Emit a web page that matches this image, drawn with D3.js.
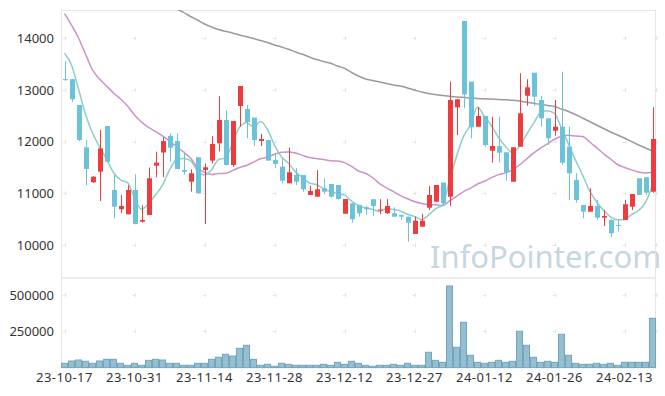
<!DOCTYPE html>
<html>
<head>
<meta charset="utf-8">
<script src="https://cdn.jsdelivr.net/npm/d3@7"></script>
<style>
	body{margin:0;background:#fff;}
	text{font-family:"Noto Sans",sans-serif;}
</style>
</head>
<body>
<script>
	var w=665;
	var h=396;

	var dates=["2023-10-17","2023-10-18","2023-10-19","2023-10-20","2023-10-23","2023-10-24","2023-10-25","2023-10-26","2023-10-27","2023-10-30",
		"2023-10-31","2023-11-01","2023-11-02","2023-11-03","2023-11-06","2023-11-07","2023-11-08","2023-11-09","2023-11-10","2023-11-13",
		"2023-11-14","2023-11-15","2023-11-16","2023-11-17","2023-11-20","2023-11-21","2023-11-22","2023-11-23","2023-11-24","2023-11-27",
		"2023-11-28","2023-11-29","2023-11-30","2023-12-01","2023-12-04","2023-12-05","2023-12-06","2023-12-07","2023-12-08","2023-12-11",
		"2023-12-12","2023-12-13","2023-12-14","2023-12-15","2023-12-18","2023-12-19","2023-12-20","2023-12-21","2023-12-22","2023-12-26",
		"2023-12-27","2023-12-28","2024-01-02","2024-01-03","2024-01-04","2024-01-05","2024-01-08","2024-01-09","2024-01-10","2024-01-11",
		"2024-01-12","2024-01-15","2024-01-16","2024-01-17","2024-01-18","2024-01-19","2024-01-22","2024-01-23","2024-01-24","2024-01-25",
		"2024-01-26","2024-01-29","2024-01-30","2024-01-31","2024-02-01","2024-02-02","2024-02-05","2024-02-06","2024-02-07","2024-02-08",
		"2024-02-13","2024-02-14","2024-02-15","2024-02-16","2024-02-19"];

	var open=[13210,13210,12709,11890,11214,11419,12303,11065,10691,10594,
		11065,10451,10581,11535,11790,12110,12013,11452,11225,11697,
		11452,11632,11968,12419,11548,12690,12632,12464,12013,12032,
		11645,11515,11194,11355,11355,10968,10935,11098,11181,11161,
		10606,10807,10774,10730,10885,10670,10614,10614,10581,10548,
		10213,10354,10722,10838,11206,10935,12665,14335,13160,12289,
		12497,11825,11916,11794,11225,11902,12889,13334,12806,12452,
		12212,12289,11902,11258,10774,10645,10755,10529,10484,10387,
		10484,10741,11291,11310,11032];
	var high=[13560,13210,12709,12030,11330,12226,12303,11355,10968,11152,
		11368,10769,11500,11806,12085,12162,12162,11806,11465,11697,
		11580,12110,12880,12600,12400,13077,12709,12470,12148,12032,
		11755,11703,11883,11490,11355,11148,11452,11291,11181,11161,
		10890,10807,10780,10761,10885,10885,10885,10730,10590,10548,
		10548,10600,11142,11161,11206,13160,12830,14335,13160,12665,
		12497,12483,12483,11794,11891,13323,13207,13334,12884,12452,
		12806,13354,12289,11388,10774,11098,10871,10678,10500,10484,
		10871,10987,11291,11310,12665];
	var low=[13180,12767,12010,11160,11200,10850,11600,10517,10614,10594,
		10400,10432,10581,11310,11310,11612,11471,11355,11032,10990,
		10407,11580,11810,11540,11515,12290,12065,11916,11916,11632,
		11490,11194,11194,11160,11032,10968,10935,10987,10920,10880,
		10606,10432,10548,10581,10561,10600,10600,10548,10484,10064,
		10213,10354,10678,10838,10755,10755,12129,12646,12065,12284,
		11902,11593,11593,11245,11225,11902,12696,12696,12289,11935,
		12115,11550,10871,10819,10517,10645,10484,10368,10149,10258,
		10484,10678,10968,10968,11012];
	var close=[13190,12820,12032,11470,11322,11871,11612,10741,10755,11065,
		10407,10484,11291,11593,12010,11883,11471,11419,11388,11000,
		11504,11955,12419,11548,12400,13077,12380,12032,12052,11632,
		11568,11245,11407,11225,11078,11045,11078,11032,10935,10890,
		10890,10498,10614,10691,10755,10686,10755,10548,10548,10432,
		10471,10471,10968,11161,10807,12806,12820,12916,12278,12497,
		11935,11916,11786,11407,11891,12549,13052,12870,12452,12065,
		12289,11593,11388,10871,10645,10755,10529,10561,10227,10368,
		10788,10987,10968,11012,12052];
	var volume=[29600,45500,52300,43400,29600,45500,57000,57000,29600,15800,
		29600,15800,50000,57000,52300,29600,29600,15800,15800,29600,
		29600,57000,71000,91600,79900,132900,153600,57000,15800,22700,
		9000,29600,22700,15800,15800,15800,15800,22700,15800,36500,
		22700,43400,29600,15800,9000,15800,15800,22700,15800,29600,
		15800,15800,105400,50000,36500,562000,139800,312000,84700,36500,
		29600,36500,50000,36500,43400,250000,153600,71000,36500,43400,
		36500,229300,84700,29600,22700,22700,29600,22700,29600,15800,
		36500,36500,36500,36500,339500];

	// moving averages: first points (window starts before the visible range)
	var ma5Head=[13710,13483,13019,12530];
	var ma20Head=[14480,14257,14006,13696,13387,13212,13077,12942,12826,12690,
		12516,12380,12274,12197,12110,12013,11906,11800,11684];
	var maLong=[null,null,null,null,null,null,null,null,null,null,
		null,null,null,null,null,null,14567,14503,14422,14354,
		14277,14219,14170,14135,14103,14064,14031,13996,13957,13919,
		13870,13832,13787,13735,13690,13638,13590,13551,13516,13464,
		13419,13338,13270,13212,13183,13154,13125,13096,13077,13038,
		12999,12961,12932,12913,12893,12878,12864,12858,12845,12835,
		12829,12825,12816,12810,12802,12787,12762,12742,12719,12700,
		12680,12632,12584,12526,12458,12390,12322,12255,12187,12129,
		12071,12003,11935,11877,11819];

	var priceTicks=[10000,11000,12000,13000,14000];
	var volTicks=[250000,500000];
	var dateTicks=[0,10,20,30,40,50,60,70,80];

	function movingAvg(n,head){
		return close.map(function(c,i){
			if(i<n-1) return head[i];
			return d3.mean(close.slice(i-n+1,i+1));
		});
	}
	var ma5=movingAvg(5,ma5Head);
	var ma20=movingAvg(20,ma20Head);

	var upColor="#ef3a3e";
	var downColor="#6cc2d9";

	var xScale=d3.scaleBand()
					.domain(d3.range(dates.length))
					.range([61,656])
					.padding(0);
	var step=xScale.bandwidth();
	function cx(i){ return xScale(i)+step/2; }

	var yScale=d3.scaleLinear()
					.domain([9361,14548])
					.range([278,10]);

	var vScale=d3.scaleLinear()
					.domain([0,617000])
					.range([367.6,278]);

	var svg=d3.select("body")
				.append("svg")
				.attr("width",w)
				.attr("height",h);

	svg.append("defs").append("clipPath")
		.attr("id","clipPrice")
		.append("rect")
		.attr("x",61).attr("y",10).attr("width",595).attr("height",268);

	// watermark
	svg.append("text")
		.attr("x",430)
		.attr("y",268)
		.attr("fill","#c6d6e1")
		.attr("font-size",31)
		.text("InfoPointer.com");

	// frame
	var frame=svg.append("g").attr("stroke","#e6e6e6").attr("fill","none");
	frame.append("rect").attr("x",61.5).attr("y",10.5).attr("width",594).attr("height",267.5);
	frame.append("rect").attr("x",61.5).attr("y",278).attr("width",594).attr("height",89.6);

	// grid crosses
	var crosses=[];
	dateTicks.forEach(function(i){
		priceTicks.forEach(function(p){ crosses.push([cx(i),yScale(p)]); });
		volTicks.forEach(function(v){ crosses.push([cx(i),vScale(v)]); });
	});
	priceTicks.forEach(function(p){ crosses.push([656,yScale(p)]); });
	volTicks.forEach(function(v){ crosses.push([656,vScale(v)]); });

	var cg=svg.append("g").attr("stroke","#e6e6e6").attr("stroke-width",1);
	cg.selectAll(".ch").data(crosses).enter().append("line")
		.attr("x1",function(d){return d[0]-2;})
		.attr("x2",function(d){return d[0]+2;})
		.attr("y1",function(d){return Math.round(d[1])+0.5;})
		.attr("y2",function(d){return Math.round(d[1])+0.5;});
	cg.selectAll(".cv").data(crosses).enter().append("line")
		.attr("x1",function(d){return Math.round(d[0])+0.5;})
		.attr("x2",function(d){return Math.round(d[0])+0.5;})
		.attr("y1",function(d){return d[1]-2;})
		.attr("y2",function(d){return d[1]+2;});

	// axis labels
	svg.selectAll(".plabel")
		.data(priceTicks)
		.enter()
		.append("text")
		.attr("x",54)
		.attr("y",function(d){return yScale(d);})
		.attr("dy","0.36em")
		.attr("text-anchor","end")
		.attr("font-size",13)
		.attr("fill","#333")
		.text(function(d){return d;});

	svg.selectAll(".vlabel")
		.data(volTicks)
		.enter()
		.append("text")
		.attr("x",54)
		.attr("y",function(d){return vScale(d);})
		.attr("dy","0.36em")
		.attr("text-anchor","end")
		.attr("font-size",13)
		.attr("fill","#333")
		.text(function(d){return d;});

	svg.selectAll(".dlabel")
		.data(dateTicks)
		.enter()
		.append("text")
		.attr("x",function(i){return cx(i);})
		.attr("y",382)
		.attr("text-anchor","middle")
		.attr("font-size",13)
		.attr("letter-spacing",0.5)
		.attr("fill","#333")
		.text(function(i){return dates[i].slice(2);});

	// volume bars
	svg.selectAll(".vol")
		.data(volume)
		.enter()
		.append("rect")
		.attr("x",function(d,i){return xScale(i)+0.5;})
		.attr("y",function(d){return vScale(d);})
		.attr("width",step-1)
		.attr("height",function(d){return vScale(0)-vScale(d);})
		.attr("fill","#95bfd0")
		.attr("stroke","#72a6bd")
		.attr("stroke-width",1);

	// moving average lines
	var plot=svg.append("g").attr("clip-path","url(#clipPrice)");

	var line=d3.line()
		.defined(function(d){return d!=null;})
		.x(function(d,i){return cx(i);})
		.y(function(d){return yScale(d);})
		.curve(d3.curveMonotoneX);

	plot.append("path").datum(maLong)
		.attr("d",line).attr("fill","none").attr("stroke","#9a9a9a").attr("stroke-width",1.5);
	plot.append("path").datum(ma20)
		.attr("d",line).attr("fill","none").attr("stroke","#cc92c8").attr("stroke-width",1.5);
	plot.append("path").datum(ma5)
		.attr("d",line).attr("fill","none").attr("stroke","#8ccfc6").attr("stroke-width",1.5);

	// candles
	var candle=plot.selectAll(".candle")
		.data(dates)
		.enter()
		.append("g");

	candle.append("line")
		.attr("x1",function(d,i){return Math.round(cx(i))+0.5;})
		.attr("x2",function(d,i){return Math.round(cx(i))+0.5;})
		.attr("y1",function(d,i){return yScale(high[i]);})
		.attr("y2",function(d,i){return yScale(low[i]);})
		.attr("stroke",function(d,i){return close[i]>=open[i]?upColor:downColor;})
		.attr("stroke-width",1);

	candle.append("rect")
		.attr("x",function(d,i){return Math.round(cx(i))-2;})
		.attr("y",function(d,i){return yScale(Math.max(open[i],close[i]));})
		.attr("width",5)
		.attr("height",function(d,i){return Math.max(1,Math.abs(yScale(open[i])-yScale(close[i])));})
		.attr("fill",function(d,i){return close[i]>=open[i]?upColor:downColor;});
</script>
</body>
</html>
